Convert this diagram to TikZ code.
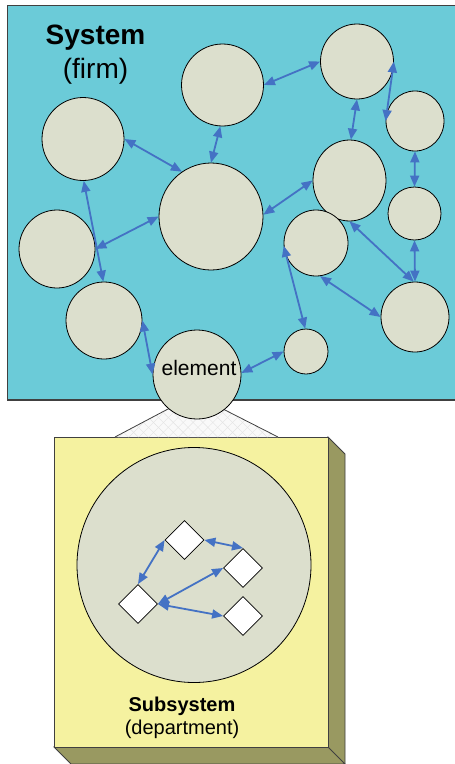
\documentclass[tikz,border=0pt]{standalone}
\usepackage{fontspec}
\setmainfont{Liberation Sans}
\usetikzlibrary{shapes.geometric,arrows.meta,patterns.meta}

\definecolor{sysblue}{RGB}{107,203,216}
\definecolor{cellfill}{RGB}{220,223,205}
\definecolor{linkblue}{RGB}{68,114,196}
\definecolor{boxfront}{RGB}{245,242,160}
\definecolor{boxside}{RGB}{153,153,97}
\definecolor{edgegray}{RGB}{64,64,64}

\begin{document}
\begin{tikzpicture}[x=1pt,y=-1pt,
  cell/.style={ellipse, draw=black, line width=0.8pt, fill=cellfill, inner sep=0pt},
  part/.style={diamond, draw=black, line width=0.8pt, fill=white, inner sep=0pt,
               minimum width=39pt, minimum height=39pt},
  link/.style={draw=linkblue, line width=1.8pt,
               {Triangle[length=11pt,width=9pt]}-{Triangle[length=11pt,width=9pt]}},
  caption/.style={anchor=base, inner sep=0pt}
]
\clip (0,0) rectangle (455,764);

% ---- subsystem box (3-D slab) ----
\draw[edgegray, line width=0.8pt, fill=boxside]
  (328,437) -- (345,454) -- (345,770) -- (328,747) -- cycle;
\draw[edgegray, line width=0.8pt, fill=boxside]
  (54,747) -- (328,747) -- (345,764) -- (71,764) -- cycle;
\draw[edgegray, line width=0.8pt, fill=boxfront] (54,437) rectangle (328,747);

% ---- zoom funnel from the element down to the box ----
\fill[gray!5] (115,437) -- (168,409) -- (223,409) -- (278,437) -- cycle;
\fill[pattern={Lines[angle=45,distance=7pt,line width=0.4pt]}, pattern color=gray!22]
  (115,437) -- (168,409) -- (223,409) -- (278,437) -- cycle;
\fill[pattern={Lines[angle=-45,distance=7pt,line width=0.4pt]}, pattern color=gray!22]
  (115,437) -- (168,409) -- (223,409) -- (278,437) -- cycle;
\draw[edgegray, line width=0.8pt] (115,437) -- (168,409) -- (223,409) -- (278,437);

% ---- system area ----
\draw[edgegray, line width=1.5pt, fill=sysblue] (7.5,5.5) rectangle (470,400);

% ---- elements of the system ----
\node[cell, minimum width=82pt,  minimum height=83pt]  (c1)   at (83,139)    {};
\node[cell, minimum width=82pt,  minimum height=82pt]  (c2)   at (222.5,85)  {};
\node[cell, minimum width=73pt,  minimum height=75pt]  (c3)   at (357,61.5)  {};
\node[cell, minimum width=58pt,  minimum height=60pt]  (c4)   at (415,121)   {};
\node[cell, minimum width=73pt,  minimum height=81pt]  (c5)   at (349.5,180.5) {};
\node[cell, minimum width=53pt,  minimum height=53pt]  (c6)   at (414.5,213.5) {};
\node[cell, minimum width=104pt, minimum height=107pt] (c7)   at (211,216.5) {};
\node[cell, minimum width=76pt,  minimum height=78pt]  (c8)   at (57,249)    {};
\node[cell, minimum width=76pt,  minimum height=77pt]  (c9)   at (104,320.5) {};
\node[cell, minimum width=88pt,  minimum height=89pt]  (elem) at (197,374.5) {};
\node[cell, minimum width=64pt,  minimum height=66pt]  (c11)  at (316,243)   {};
\node[cell, minimum width=68pt,  minimum height=70pt]  (c12)  at (415,317)   {};
\node[cell, minimum width=44pt,  minimum height=45pt]  (c13)  at (306,351.5) {};

% ---- relations between elements ----
\draw[link] (c1.0)    -- (c7.123);
\draw[link] (c2.-93)  -- (c7.90);
\draw[link] (c2.0)    -- (c3.180);
\draw[link] (c3.0)    -- (c4.180);
\draw[link] (c3.-90)  -- (c5.88);
\draw[link] (c4.-90)  -- (c6.90);
\draw[link] (c7.2)    -- (c5.180);
\draw[link] (c6.-90)  -- (c12.90);
\draw[link] (c5.-90)  -- (c12.92);
\draw[link] (c11.-83) -- (c12.180);
\draw[link] (c11.185) -- (c13.92);
\draw[link] (elem.2)  -- (c13.180);
\draw[link] (c1.-89)  -- (c9.91);
\draw[link] (c8.0)    -- (c7.180);
\draw[link] (c9.0)    -- (elem.180);

% ---- inside of the subsystem ----
\node[cell, minimum width=234pt, minimum height=235pt] (unit) at (194,565) {};
\node[part] (d1) at (184.5,540) {};
\node[part] (d2) at (243,568)   {};
\node[part] (d3) at (138,604)   {};
\node[part] (d4) at (243,616)   {};
\draw[link] (d1.west) -- (d3.north);
\draw[link] (d1.east) -- (d2.north);
\draw[link] (d3.east) -- (d2.west);
\draw[link] (d3.east) -- (d4.west);

% ---- texts ----
\node[caption, font=\bfseries\fontsize{28}{28}\selectfont] (systitle) at (95.5,44) {System};
\node[caption, font=\fontsize{28}{28}\selectfont]          (sysnote)  at (95.5,78) {(firm)};
\node[caption, font=\fontsize{21}{21}\selectfont]          (elemname) at (199,375) {element};
\node[caption, font=\bfseries\fontsize{20}{20}\selectfont] (subtitle) at (182,711) {Subsystem};
\node[caption, font=\fontsize{20}{20}\selectfont]          (subnote)  at (182,734) {(department)};
\end{tikzpicture}
\end{document}
